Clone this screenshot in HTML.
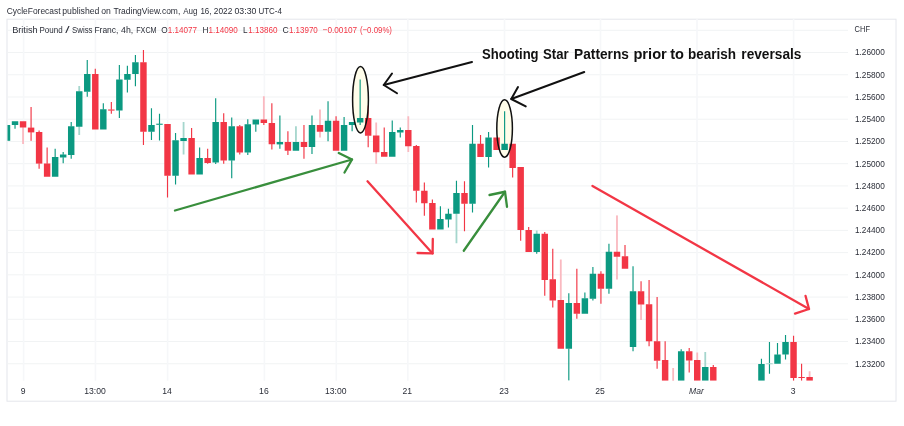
<!DOCTYPE html>
<html><head><meta charset="utf-8"><title>GBPCHF chart</title>
<style>
html,body{margin:0;padding:0;background:#fff;}
body{width:904px;height:426px;overflow:hidden;font-family:"Liberation Sans",sans-serif;}
svg{display:block}
svg text{font-family:"Liberation Sans",sans-serif;}
.ax{font-size:8.6px;fill:#2b2e38;}
.hd{font-size:9.1px;fill:#2b2e38;}
.rd{font-size:9.1px;fill:#f23645;}
.note{font-size:15.4px;font-weight:bold;fill:#111;}
</style></head><body>
<svg width="904" height="426" viewBox="0 0 904 426">
<rect width="904" height="426" fill="#fff"/>
<!-- frame -->
<rect x="7" y="19.2" width="889" height="382" fill="#fff" stroke="#e4e6ec" stroke-width="1"/>
<g id="grid">
<rect x="7" y="29.80" width="841" height="1" fill="#f1f3f4"/>
<rect x="7" y="52.03" width="841" height="1" fill="#f1f3f4"/>
<rect x="7" y="74.26" width="841" height="1" fill="#f1f3f4"/>
<rect x="7" y="96.49" width="841" height="1" fill="#f1f3f4"/>
<rect x="7" y="118.72" width="841" height="1" fill="#f1f3f4"/>
<rect x="7" y="140.95" width="841" height="1" fill="#f1f3f4"/>
<rect x="7" y="163.18" width="841" height="1" fill="#f1f3f4"/>
<rect x="7" y="185.41" width="841" height="1" fill="#f1f3f4"/>
<rect x="7" y="207.64" width="841" height="1" fill="#f1f3f4"/>
<rect x="7" y="229.87" width="841" height="1" fill="#f1f3f4"/>
<rect x="7" y="252.10" width="841" height="1" fill="#f1f3f4"/>
<rect x="7" y="274.33" width="841" height="1" fill="#f1f3f4"/>
<rect x="7" y="296.56" width="841" height="1" fill="#f1f3f4"/>
<rect x="7" y="318.79" width="841" height="1" fill="#f1f3f4"/>
<rect x="7" y="341.02" width="841" height="1" fill="#f1f3f4"/>
<rect x="7" y="363.25" width="841" height="1" fill="#f1f3f4"/>
<rect x="22.80" y="19" width="1.6" height="361.75" fill="#f6f7f9"/>
<rect x="94.65" y="19" width="1.6" height="361.75" fill="#f6f7f9"/>
<rect x="166.80" y="19" width="1.6" height="361.75" fill="#f6f7f9"/>
<rect x="263.60" y="19" width="1.6" height="361.75" fill="#f6f7f9"/>
<rect x="335.50" y="19" width="1.6" height="361.75" fill="#f6f7f9"/>
<rect x="407.00" y="19" width="1.6" height="361.75" fill="#f6f7f9"/>
<rect x="503.70" y="19" width="1.6" height="361.75" fill="#f6f7f9"/>
<rect x="599.70" y="19" width="1.6" height="361.75" fill="#f6f7f9"/>
<rect x="696.20" y="19" width="1.6" height="361.75" fill="#f6f7f9"/>
<rect x="792.80" y="19" width="1.6" height="361.75" fill="#f6f7f9"/>
</g>
<ellipse cx="360.5" cy="99.7" rx="7.9" ry="33.2" fill="#fffdea"/>
<ellipse cx="504.6" cy="128.5" rx="7.8" ry="28.7" fill="#fffdea"/>
<clipPath id="plot"><rect x="7.5" y="19.5" width="841" height="361.25"/></clipPath>
<g id="candles" clip-path="url(#plot)">
<rect x="3.77" y="125.00" width="6.45" height="15.80" fill="#0b9981"/>
<rect x="14.45" y="124.70" width="1.15" height="4.05" fill="#0b9981"/>
<rect x="11.80" y="121.25" width="6.45" height="3.75" fill="#0b9981"/>
<rect x="22.15" y="127.20" width="1.8" height="16.80" fill="#fab9c0"/>
<rect x="19.83" y="121.25" width="6.45" height="6.25" fill="#f23645"/>
<rect x="30.50" y="107.00" width="1.15" height="20.90" fill="#f23645"/>
<rect x="30.50" y="132.10" width="1.15" height="8.70" fill="#f23645"/>
<rect x="27.85" y="127.60" width="6.45" height="4.80" fill="#f23645"/>
<rect x="38.53" y="130.50" width="1.15" height="1.80" fill="#f23645"/>
<rect x="38.53" y="163.30" width="1.15" height="5.45" fill="#f23645"/>
<rect x="35.88" y="132.00" width="6.45" height="31.60" fill="#f23645"/>
<rect x="46.55" y="147.50" width="1.15" height="16.30" fill="#f23645"/>
<rect x="43.90" y="163.50" width="6.45" height="13.25" fill="#f23645"/>
<rect x="54.58" y="148.75" width="1.15" height="8.55" fill="#0b9981"/>
<rect x="51.93" y="157.00" width="6.45" height="19.75" fill="#0b9981"/>
<rect x="62.61" y="152.00" width="1.15" height="2.80" fill="#0b9981"/>
<rect x="62.61" y="157.20" width="1.15" height="6.05" fill="#0b9981"/>
<rect x="59.96" y="154.50" width="6.45" height="3.00" fill="#0b9981"/>
<rect x="70.63" y="122.00" width="1.15" height="4.55" fill="#0b9981"/>
<rect x="70.63" y="154.70" width="1.15" height="4.05" fill="#0b9981"/>
<rect x="67.98" y="126.25" width="6.45" height="28.75" fill="#0b9981"/>
<rect x="78.33" y="86.00" width="1.8" height="5.55" fill="#a5d6cd"/>
<rect x="78.33" y="126.45" width="1.8" height="8.55" fill="#a5d6cd"/>
<rect x="76.01" y="91.25" width="6.45" height="35.50" fill="#0b9981"/>
<rect x="86.68" y="60.00" width="1.15" height="14.30" fill="#0b9981"/>
<rect x="86.68" y="91.45" width="1.15" height="5.30" fill="#0b9981"/>
<rect x="84.03" y="74.00" width="6.45" height="17.75" fill="#0b9981"/>
<rect x="94.71" y="68.75" width="1.15" height="5.55" fill="#f23645"/>
<rect x="92.06" y="74.00" width="6.45" height="55.50" fill="#f23645"/>
<rect x="102.74" y="103.25" width="1.15" height="6.30" fill="#0b9981"/>
<rect x="100.09" y="109.25" width="6.45" height="20.25" fill="#0b9981"/>
<rect x="110.76" y="102.00" width="1.15" height="7.80" fill="#f23645"/>
<rect x="110.76" y="110.30" width="1.15" height="3.45" fill="#f23645"/>
<rect x="108.11" y="109.50" width="6.45" height="1.10" fill="#f23645"/>
<rect x="118.79" y="65.00" width="1.15" height="14.80" fill="#0b9981"/>
<rect x="118.79" y="110.20" width="1.15" height="7.80" fill="#0b9981"/>
<rect x="116.14" y="79.50" width="6.45" height="31.00" fill="#0b9981"/>
<rect x="126.81" y="65.75" width="1.15" height="8.55" fill="#0b9981"/>
<rect x="126.81" y="79.45" width="1.15" height="13.05" fill="#0b9981"/>
<rect x="124.17" y="74.00" width="6.45" height="5.75" fill="#0b9981"/>
<rect x="134.84" y="55.00" width="1.15" height="7.55" fill="#0b9981"/>
<rect x="134.84" y="73.70" width="1.15" height="12.55" fill="#0b9981"/>
<rect x="132.19" y="62.25" width="6.45" height="11.75" fill="#0b9981"/>
<rect x="142.87" y="50.00" width="1.15" height="12.55" fill="#f23645"/>
<rect x="142.87" y="131.45" width="1.15" height="13.55" fill="#f23645"/>
<rect x="140.22" y="62.25" width="6.45" height="69.50" fill="#f23645"/>
<rect x="150.89" y="108.25" width="1.15" height="17.05" fill="#0b9981"/>
<rect x="150.89" y="131.45" width="1.15" height="8.55" fill="#0b9981"/>
<rect x="148.24" y="125.00" width="6.45" height="6.75" fill="#0b9981"/>
<rect x="158.92" y="113.75" width="1.15" height="10.25" fill="#0b9981"/>
<rect x="158.92" y="124.50" width="1.15" height="16.00" fill="#0b9981"/>
<rect x="156.27" y="123.70" width="6.45" height="1.10" fill="#0b9981"/>
<rect x="166.94" y="175.45" width="1.15" height="22.05" fill="#f23645"/>
<rect x="164.29" y="124.00" width="6.45" height="51.75" fill="#f23645"/>
<rect x="174.97" y="133.00" width="1.15" height="7.55" fill="#0b9981"/>
<rect x="174.97" y="175.45" width="1.15" height="9.05" fill="#0b9981"/>
<rect x="172.32" y="140.25" width="6.45" height="35.50" fill="#0b9981"/>
<rect x="182.67" y="122.00" width="1.8" height="16.30" fill="#a5d6cd"/>
<rect x="182.67" y="140.70" width="1.8" height="13.80" fill="#a5d6cd"/>
<rect x="180.35" y="138.00" width="6.45" height="3.00" fill="#0b9981"/>
<rect x="191.02" y="128.00" width="1.15" height="10.30" fill="#f23645"/>
<rect x="188.37" y="138.00" width="6.45" height="36.50" fill="#f23645"/>
<rect x="199.05" y="147.50" width="1.15" height="10.80" fill="#0b9981"/>
<rect x="196.40" y="158.00" width="6.45" height="16.50" fill="#0b9981"/>
<rect x="207.08" y="148.75" width="1.15" height="9.55" fill="#f23645"/>
<rect x="207.08" y="162.70" width="1.15" height="1.05" fill="#f23645"/>
<rect x="204.43" y="158.00" width="6.45" height="5.00" fill="#f23645"/>
<rect x="215.10" y="98.25" width="1.15" height="24.05" fill="#0b9981"/>
<rect x="215.10" y="162.20" width="1.15" height="1.80" fill="#0b9981"/>
<rect x="212.45" y="122.00" width="6.45" height="40.50" fill="#0b9981"/>
<rect x="223.13" y="113.25" width="1.15" height="9.05" fill="#f23645"/>
<rect x="223.13" y="160.20" width="1.15" height="3.55" fill="#f23645"/>
<rect x="220.48" y="122.00" width="6.45" height="38.50" fill="#f23645"/>
<rect x="231.15" y="117.50" width="1.15" height="9.05" fill="#0b9981"/>
<rect x="231.15" y="160.20" width="1.15" height="18.05" fill="#0b9981"/>
<rect x="228.50" y="126.25" width="6.45" height="34.25" fill="#0b9981"/>
<rect x="239.18" y="125.00" width="1.15" height="1.55" fill="#f23645"/>
<rect x="239.18" y="152.20" width="1.15" height="2.30" fill="#f23645"/>
<rect x="236.53" y="126.25" width="6.45" height="26.25" fill="#f23645"/>
<rect x="247.21" y="119.25" width="1.15" height="5.30" fill="#0b9981"/>
<rect x="247.21" y="152.20" width="1.15" height="2.80" fill="#0b9981"/>
<rect x="244.56" y="124.25" width="6.45" height="28.25" fill="#0b9981"/>
<rect x="255.23" y="124.20" width="1.15" height="7.55" fill="#0b9981"/>
<rect x="252.58" y="119.50" width="6.45" height="5.00" fill="#0b9981"/>
<rect x="262.93" y="96.25" width="1.8" height="23.55" fill="#fab9c0"/>
<rect x="263.26" y="122.70" width="1.15" height="2.30" fill="#f23645"/>
<rect x="260.61" y="119.50" width="6.45" height="3.50" fill="#f23645"/>
<rect x="271.28" y="103.25" width="1.15" height="20.05" fill="#f23645"/>
<rect x="271.28" y="143.95" width="1.15" height="5.55" fill="#f23645"/>
<rect x="268.63" y="123.00" width="6.45" height="21.25" fill="#f23645"/>
<rect x="279.31" y="115.50" width="1.15" height="26.80" fill="#0b9981"/>
<rect x="279.31" y="144.10" width="1.15" height="4.65" fill="#0b9981"/>
<rect x="276.66" y="142.00" width="6.45" height="2.40" fill="#0b9981"/>
<rect x="287.33" y="131.25" width="1.15" height="11.05" fill="#f23645"/>
<rect x="287.33" y="150.45" width="1.15" height="4.55" fill="#f23645"/>
<rect x="284.68" y="142.00" width="6.45" height="8.75" fill="#f23645"/>
<rect x="295.04" y="126.25" width="1.8" height="16.05" fill="#a5d6cd"/>
<rect x="292.71" y="142.00" width="6.45" height="8.75" fill="#0b9981"/>
<rect x="303.39" y="125.00" width="1.15" height="17.30" fill="#f23645"/>
<rect x="303.39" y="146.70" width="1.15" height="12.05" fill="#f23645"/>
<rect x="300.74" y="142.00" width="6.45" height="5.00" fill="#f23645"/>
<rect x="311.41" y="115.50" width="1.15" height="9.80" fill="#0b9981"/>
<rect x="311.41" y="146.70" width="1.15" height="7.30" fill="#0b9981"/>
<rect x="308.76" y="125.00" width="6.45" height="22.00" fill="#0b9981"/>
<rect x="319.11" y="109.50" width="1.8" height="15.80" fill="#fab9c0"/>
<rect x="319.11" y="131.45" width="1.8" height="6.05" fill="#fab9c0"/>
<rect x="316.79" y="125.00" width="6.45" height="6.75" fill="#f23645"/>
<rect x="327.46" y="101.25" width="1.15" height="19.80" fill="#0b9981"/>
<rect x="327.46" y="131.45" width="1.15" height="9.80" fill="#0b9981"/>
<rect x="324.81" y="120.75" width="6.45" height="11.00" fill="#0b9981"/>
<rect x="335.49" y="116.25" width="1.15" height="4.80" fill="#f23645"/>
<rect x="332.84" y="120.75" width="6.45" height="30.00" fill="#f23645"/>
<rect x="343.52" y="117.00" width="1.15" height="8.30" fill="#0b9981"/>
<rect x="340.87" y="125.00" width="6.45" height="25.75" fill="#0b9981"/>
<rect x="351.54" y="124.70" width="1.15" height="6.55" fill="#0b9981"/>
<rect x="348.89" y="122.00" width="6.45" height="3.00" fill="#0b9981"/>
<rect x="359.57" y="79.50" width="1.15" height="38.80" fill="#0b9981"/>
<rect x="359.57" y="122.20" width="1.15" height="2.80" fill="#0b9981"/>
<rect x="356.92" y="118.00" width="6.45" height="4.50" fill="#0b9981"/>
<rect x="367.60" y="105.50" width="1.15" height="12.80" fill="#f23645"/>
<rect x="367.60" y="135.45" width="1.15" height="11.80" fill="#f23645"/>
<rect x="364.94" y="118.00" width="6.45" height="17.75" fill="#f23645"/>
<rect x="375.30" y="122.50" width="1.8" height="13.30" fill="#fab9c0"/>
<rect x="375.30" y="151.95" width="1.8" height="11.80" fill="#fab9c0"/>
<rect x="372.97" y="135.50" width="6.45" height="16.75" fill="#f23645"/>
<rect x="383.65" y="127.50" width="1.15" height="24.80" fill="#f23645"/>
<rect x="381.00" y="152.00" width="6.45" height="4.75" fill="#f23645"/>
<rect x="391.67" y="120.50" width="1.15" height="11.80" fill="#0b9981"/>
<rect x="389.02" y="132.00" width="6.45" height="24.75" fill="#0b9981"/>
<rect x="399.70" y="127.50" width="1.15" height="2.80" fill="#0b9981"/>
<rect x="399.70" y="132.20" width="1.15" height="5.30" fill="#0b9981"/>
<rect x="397.05" y="130.00" width="6.45" height="2.50" fill="#0b9981"/>
<rect x="407.40" y="116.25" width="1.8" height="14.05" fill="#fab9c0"/>
<rect x="407.40" y="145.95" width="1.8" height="6.05" fill="#fab9c0"/>
<rect x="405.07" y="130.00" width="6.45" height="16.25" fill="#f23645"/>
<rect x="415.75" y="145.00" width="1.15" height="1.30" fill="#f23645"/>
<rect x="415.75" y="190.45" width="1.15" height="12.05" fill="#f23645"/>
<rect x="413.10" y="146.00" width="6.45" height="44.75" fill="#f23645"/>
<rect x="423.78" y="182.50" width="1.15" height="8.55" fill="#f23645"/>
<rect x="423.78" y="202.95" width="1.15" height="12.80" fill="#f23645"/>
<rect x="421.13" y="190.75" width="6.45" height="12.50" fill="#f23645"/>
<rect x="431.80" y="199.50" width="1.15" height="3.80" fill="#f23645"/>
<rect x="429.15" y="203.00" width="6.45" height="26.50" fill="#f23645"/>
<rect x="439.83" y="206.25" width="1.15" height="13.05" fill="#0b9981"/>
<rect x="437.18" y="219.00" width="6.45" height="10.50" fill="#0b9981"/>
<rect x="447.86" y="208.75" width="1.15" height="5.30" fill="#0b9981"/>
<rect x="447.86" y="219.20" width="1.15" height="8.30" fill="#0b9981"/>
<rect x="445.20" y="213.75" width="6.45" height="5.75" fill="#0b9981"/>
<rect x="455.88" y="180.75" width="1.15" height="12.55" fill="#0b9981"/>
<rect x="455.56" y="213.45" width="1.8" height="29.80" fill="#a5d6cd"/>
<rect x="453.23" y="193.00" width="6.45" height="20.75" fill="#0b9981"/>
<rect x="463.91" y="181.25" width="1.15" height="12.05" fill="#f23645"/>
<rect x="463.91" y="203.45" width="1.15" height="27.80" fill="#f23645"/>
<rect x="461.26" y="193.00" width="6.45" height="10.75" fill="#f23645"/>
<rect x="471.93" y="125.00" width="1.15" height="19.05" fill="#0b9981"/>
<rect x="471.93" y="203.45" width="1.15" height="9.05" fill="#0b9981"/>
<rect x="469.28" y="143.75" width="6.45" height="60.00" fill="#0b9981"/>
<rect x="479.96" y="135.00" width="1.15" height="9.05" fill="#f23645"/>
<rect x="477.31" y="143.75" width="6.45" height="13.25" fill="#f23645"/>
<rect x="487.99" y="132.00" width="1.15" height="5.80" fill="#0b9981"/>
<rect x="487.99" y="156.70" width="1.15" height="10.80" fill="#0b9981"/>
<rect x="485.33" y="137.50" width="6.45" height="19.50" fill="#0b9981"/>
<rect x="493.36" y="137.50" width="6.45" height="12.50" fill="#f23645"/>
<rect x="504.04" y="111.25" width="1.15" height="32.80" fill="#0b9981"/>
<rect x="501.39" y="143.75" width="6.45" height="6.25" fill="#0b9981"/>
<rect x="512.06" y="167.70" width="1.15" height="9.80" fill="#f23645"/>
<rect x="509.41" y="143.75" width="6.45" height="24.25" fill="#f23645"/>
<rect x="520.09" y="229.70" width="1.15" height="11.05" fill="#f23645"/>
<rect x="517.44" y="167.00" width="6.45" height="63.00" fill="#f23645"/>
<rect x="528.11" y="227.00" width="1.15" height="3.30" fill="#f23645"/>
<rect x="525.46" y="230.00" width="6.45" height="22.00" fill="#f23645"/>
<rect x="535.82" y="230.50" width="1.8" height="3.55" fill="#a5d6cd"/>
<rect x="536.14" y="251.70" width="1.15" height="2.05" fill="#0b9981"/>
<rect x="533.49" y="233.75" width="6.45" height="18.25" fill="#0b9981"/>
<rect x="544.17" y="232.00" width="1.15" height="2.05" fill="#f23645"/>
<rect x="544.17" y="279.70" width="1.15" height="16.05" fill="#f23645"/>
<rect x="541.52" y="233.75" width="6.45" height="46.25" fill="#f23645"/>
<rect x="552.19" y="248.75" width="1.15" height="30.80" fill="#f23645"/>
<rect x="552.19" y="300.20" width="1.15" height="7.30" fill="#f23645"/>
<rect x="549.54" y="279.25" width="6.45" height="21.25" fill="#f23645"/>
<rect x="559.89" y="259.50" width="1.8" height="40.80" fill="#fab9c0"/>
<rect x="557.57" y="300.00" width="6.45" height="48.75" fill="#f23645"/>
<rect x="568.24" y="293.25" width="1.15" height="10.05" fill="#0b9981"/>
<rect x="568.24" y="348.45" width="1.15" height="32.05" fill="#0b9981"/>
<rect x="565.59" y="303.00" width="6.45" height="45.75" fill="#0b9981"/>
<rect x="576.27" y="268.75" width="1.15" height="34.55" fill="#f23645"/>
<rect x="576.27" y="313.45" width="1.15" height="5.30" fill="#f23645"/>
<rect x="573.62" y="303.00" width="6.45" height="10.75" fill="#f23645"/>
<rect x="584.30" y="292.50" width="1.15" height="6.05" fill="#0b9981"/>
<rect x="581.65" y="298.25" width="6.45" height="15.50" fill="#0b9981"/>
<rect x="592.32" y="267.00" width="1.15" height="7.05" fill="#0b9981"/>
<rect x="592.32" y="298.45" width="1.15" height="2.05" fill="#0b9981"/>
<rect x="589.67" y="273.75" width="6.45" height="25.00" fill="#0b9981"/>
<rect x="600.35" y="271.25" width="1.15" height="2.80" fill="#f23645"/>
<rect x="600.35" y="288.45" width="1.15" height="15.30" fill="#f23645"/>
<rect x="597.70" y="273.75" width="6.45" height="15.00" fill="#f23645"/>
<rect x="608.37" y="243.75" width="1.15" height="8.30" fill="#0b9981"/>
<rect x="608.37" y="288.45" width="1.15" height="5.30" fill="#0b9981"/>
<rect x="605.72" y="251.75" width="6.45" height="37.00" fill="#0b9981"/>
<rect x="616.08" y="215.40" width="1.8" height="36.65" fill="#fab9c0"/>
<rect x="616.08" y="256.45" width="1.8" height="23.05" fill="#fab9c0"/>
<rect x="613.75" y="251.75" width="6.45" height="5.00" fill="#f23645"/>
<rect x="624.43" y="245.00" width="1.15" height="11.55" fill="#f23645"/>
<rect x="621.78" y="256.25" width="6.45" height="12.50" fill="#f23645"/>
<rect x="632.45" y="266.25" width="1.15" height="25.30" fill="#0b9981"/>
<rect x="632.45" y="346.70" width="1.15" height="4.55" fill="#0b9981"/>
<rect x="629.80" y="291.25" width="6.45" height="55.75" fill="#0b9981"/>
<rect x="640.48" y="281.25" width="1.15" height="10.30" fill="#f23645"/>
<rect x="640.15" y="304.20" width="1.8" height="15.80" fill="#fab9c0"/>
<rect x="637.83" y="291.25" width="6.45" height="13.25" fill="#f23645"/>
<rect x="648.50" y="280.00" width="1.15" height="24.55" fill="#f23645"/>
<rect x="648.50" y="340.95" width="1.15" height="5.30" fill="#f23645"/>
<rect x="645.85" y="304.25" width="6.45" height="37.00" fill="#f23645"/>
<rect x="656.53" y="297.00" width="1.15" height="44.55" fill="#f23645"/>
<rect x="656.53" y="360.45" width="1.15" height="8.30" fill="#f23645"/>
<rect x="653.88" y="341.25" width="6.45" height="19.50" fill="#f23645"/>
<rect x="664.56" y="341.25" width="1.15" height="19.05" fill="#f23645"/>
<rect x="661.91" y="360.00" width="6.45" height="20.75" fill="#f23645"/>
<rect x="672.26" y="368.00" width="1.8" height="13.05" fill="#fab9c0"/>
<rect x="680.61" y="349.25" width="1.15" height="2.30" fill="#0b9981"/>
<rect x="677.96" y="351.25" width="6.45" height="29.50" fill="#0b9981"/>
<rect x="688.63" y="348.00" width="1.15" height="3.55" fill="#f23645"/>
<rect x="688.63" y="360.20" width="1.15" height="12.30" fill="#f23645"/>
<rect x="685.99" y="351.25" width="6.45" height="9.25" fill="#f23645"/>
<rect x="696.34" y="352.50" width="1.8" height="7.80" fill="#fab9c0"/>
<rect x="694.01" y="360.00" width="6.45" height="20.75" fill="#f23645"/>
<rect x="704.36" y="352.00" width="1.8" height="15.30" fill="#a5d6cd"/>
<rect x="702.04" y="367.00" width="6.45" height="13.75" fill="#0b9981"/>
<rect x="712.71" y="365.00" width="1.15" height="2.30" fill="#f23645"/>
<rect x="710.06" y="367.00" width="6.45" height="13.75" fill="#f23645"/>
<rect x="760.87" y="358.75" width="1.15" height="5.55" fill="#0b9981"/>
<rect x="758.22" y="364.00" width="6.45" height="16.75" fill="#0b9981"/>
<rect x="768.89" y="342.00" width="1.15" height="21.55" fill="#0b9981"/>
<rect x="768.89" y="363.95" width="1.15" height="9.80" fill="#0b9981"/>
<rect x="766.25" y="363.25" width="6.45" height="1.00" fill="#a5d6cd"/>
<rect x="776.92" y="343.00" width="1.15" height="11.80" fill="#0b9981"/>
<rect x="774.27" y="354.50" width="6.45" height="9.25" fill="#0b9981"/>
<rect x="784.95" y="335.00" width="1.15" height="7.30" fill="#0b9981"/>
<rect x="784.95" y="354.20" width="1.15" height="5.30" fill="#0b9981"/>
<rect x="782.30" y="342.00" width="6.45" height="12.50" fill="#0b9981"/>
<rect x="792.97" y="335.75" width="1.15" height="6.55" fill="#f23645"/>
<rect x="792.97" y="377.70" width="1.15" height="3.05" fill="#f23645"/>
<rect x="790.32" y="342.00" width="6.45" height="36.00" fill="#f23645"/>
<rect x="801.00" y="363.75" width="1.15" height="13.55" fill="#f23645"/>
<rect x="801.00" y="377.70" width="1.15" height="3.05" fill="#f23645"/>
<rect x="798.35" y="377.00" width="6.45" height="1.00" fill="#f23645"/>
<rect x="808.70" y="371.25" width="1.8" height="6.05" fill="#fab9c0"/>
<rect x="806.38" y="377.00" width="6.45" height="3.75" fill="#f23645"/>
</g>
<!-- annotations -->
<g fill="none" stroke-linecap="round" stroke-linejoin="round">
<ellipse cx="360.5" cy="99.7" rx="7.9" ry="33.2" stroke="#111" stroke-width="1.5"/>
<ellipse cx="504.6" cy="128.5" rx="7.8" ry="28.7" stroke="#111" stroke-width="1.5"/>
<g stroke="#111" stroke-width="2">
<path d="M472 62 L383.75 85"/><path d="M392 73.5 L383.75 85 L397 93.25"/>
<path d="M584.25 72 L511.25 99"/><path d="M518 87 L511.25 99 L525.75 106.4"/>
</g>
<g stroke="#388e3c" stroke-width="2.3">
<path d="M175 210.5 L352 159.5"/><path d="M338.75 153 L352 159.5 L344.5 172.5"/>
<path d="M463.75 250.75 L505 191.75"/><path d="M489.5 195 L505 191.75 L507 206.75"/>
</g>
<g stroke="#f23645" stroke-width="2.3">
<path d="M367.5 181.25 L432.6 253.4"/><path d="M432.8 239 L432.6 253.4 L417.5 253"/>
<path d="M592.5 185.9 L809 309"/><path d="M805.5 295.8 L809 309 L795 313.6"/>
</g>
</g>
<!-- redraw shooting star candles over ellipse fill handled by order: ellipses are translucent -->
<text x="482.0" y="59" class="note" textLength="56.6" lengthAdjust="spacingAndGlyphs">Shooting</text><text x="543.1" y="59" class="note" textLength="25.6" lengthAdjust="spacingAndGlyphs">Star</text><text x="574.1" y="59" class="note" textLength="54.8" lengthAdjust="spacingAndGlyphs">Patterns</text><text x="633.4" y="59" class="note" textLength="33.4" lengthAdjust="spacingAndGlyphs">prior</text><text x="670.2" y="59" class="note" textLength="13.8" lengthAdjust="spacingAndGlyphs">to</text><text x="688.1" y="59" class="note" textLength="48.0" lengthAdjust="spacingAndGlyphs">bearish</text><text x="741.3" y="59" class="note" textLength="60.2" lengthAdjust="spacingAndGlyphs">reversals</text>
<!-- header -->
<text x="6.70" y="13.6" class="hd" textLength="53.90" lengthAdjust="spacingAndGlyphs">CycleForecast</text>
<text x="62.30" y="13.6" class="hd" textLength="37.10" lengthAdjust="spacingAndGlyphs">published</text>
<text x="101.30" y="13.6" class="hd" textLength="9.60" lengthAdjust="spacingAndGlyphs">on</text>
<text x="113.40" y="13.6" class="hd" textLength="66.90" lengthAdjust="spacingAndGlyphs">TradingView.com,</text>
<text x="183.20" y="13.6" class="hd" textLength="14.30" lengthAdjust="spacingAndGlyphs">Aug</text>
<text x="200.40" y="13.6" class="hd" textLength="11.10" lengthAdjust="spacingAndGlyphs">16,</text>
<text x="213.80" y="13.6" class="hd" textLength="18.50" lengthAdjust="spacingAndGlyphs">2022</text>
<text x="234.50" y="13.6" class="hd" textLength="21.90" lengthAdjust="spacingAndGlyphs">03:30</text>
<text x="258.40" y="13.6" class="hd" textLength="23.50" lengthAdjust="spacingAndGlyphs">UTC-4</text>
<text x="12.15" y="32.8" class="hd" textLength="25.45" lengthAdjust="spacingAndGlyphs">British</text>
<text x="39.50" y="32.8" class="hd" textLength="23.10" lengthAdjust="spacingAndGlyphs">Pound</text>
<text x="65.20" y="32.8" class="hd" textLength="4.30" lengthAdjust="spacingAndGlyphs">/</text>
<text x="72.10" y="32.8" class="hd" textLength="20.40" lengthAdjust="spacingAndGlyphs">Swiss</text>
<text x="94.40" y="32.8" class="hd" textLength="24.00" lengthAdjust="spacingAndGlyphs">Franc,</text>
<text x="121.10" y="32.8" class="hd" textLength="12.20" lengthAdjust="spacingAndGlyphs">4h,</text>
<text x="136.20" y="32.8" class="hd" textLength="20.40" lengthAdjust="spacingAndGlyphs">FXCM</text>
<text x="161.30" y="32.8" class="hd" textLength="6.40" lengthAdjust="spacingAndGlyphs">O</text>
<text x="167.80" y="32.8" class="rd" textLength="29.30" lengthAdjust="spacingAndGlyphs">1.14077</text>
<text x="202.60" y="32.8" class="hd" textLength="6.00" lengthAdjust="spacingAndGlyphs">H</text>
<text x="208.60" y="32.8" class="rd" textLength="29.20" lengthAdjust="spacingAndGlyphs">1.14090</text>
<text x="243.10" y="32.8" class="hd" textLength="4.60" lengthAdjust="spacingAndGlyphs">L</text>
<text x="248.30" y="32.8" class="rd" textLength="29.30" lengthAdjust="spacingAndGlyphs">1.13860</text>
<text x="282.40" y="32.8" class="hd" textLength="6.30" lengthAdjust="spacingAndGlyphs">C</text>
<text x="288.90" y="32.8" class="rd" textLength="28.90" lengthAdjust="spacingAndGlyphs">1.13970</text>
<text x="322.60" y="32.8" class="rd" textLength="34.60" lengthAdjust="spacingAndGlyphs">−0.00107</text>
<text x="359.90" y="32.8" class="rd" textLength="32.10" lengthAdjust="spacingAndGlyphs">(−0.09%)</text>
<!-- axes -->
<text x="854.6" y="31.8" class="ax" style="font-size:9.1px" textLength="15.4" lengthAdjust="spacingAndGlyphs">CHF</text>
<text x="855" y="55.38" class="ax" textLength="29.8" lengthAdjust="spacingAndGlyphs">1.26000</text>
<text x="855" y="77.61" class="ax" textLength="29.8" lengthAdjust="spacingAndGlyphs">1.25800</text>
<text x="855" y="99.84" class="ax" textLength="29.8" lengthAdjust="spacingAndGlyphs">1.25600</text>
<text x="855" y="122.07" class="ax" textLength="29.8" lengthAdjust="spacingAndGlyphs">1.25400</text>
<text x="855" y="144.30" class="ax" textLength="29.8" lengthAdjust="spacingAndGlyphs">1.25200</text>
<text x="855" y="166.53" class="ax" textLength="29.8" lengthAdjust="spacingAndGlyphs">1.25000</text>
<text x="855" y="188.76" class="ax" textLength="29.8" lengthAdjust="spacingAndGlyphs">1.24800</text>
<text x="855" y="210.99" class="ax" textLength="29.8" lengthAdjust="spacingAndGlyphs">1.24600</text>
<text x="855" y="233.22" class="ax" textLength="29.8" lengthAdjust="spacingAndGlyphs">1.24400</text>
<text x="855" y="255.45" class="ax" textLength="29.8" lengthAdjust="spacingAndGlyphs">1.24200</text>
<text x="855" y="277.68" class="ax" textLength="29.8" lengthAdjust="spacingAndGlyphs">1.24000</text>
<text x="855" y="299.91" class="ax" textLength="29.8" lengthAdjust="spacingAndGlyphs">1.23800</text>
<text x="855" y="322.14" class="ax" textLength="29.8" lengthAdjust="spacingAndGlyphs">1.23600</text>
<text x="855" y="344.37" class="ax" textLength="29.8" lengthAdjust="spacingAndGlyphs">1.23400</text>
<text x="855" y="366.60" class="ax" textLength="29.8" lengthAdjust="spacingAndGlyphs">1.23200</text>
<text x="23.10" y="394.3" text-anchor="middle" class="ax">9</text>
<text x="94.95" y="394.3" text-anchor="middle" class="ax">13:00</text>
<text x="167.10" y="394.3" text-anchor="middle" class="ax">14</text>
<text x="263.90" y="394.3" text-anchor="middle" class="ax">16</text>
<text x="335.80" y="394.3" text-anchor="middle" class="ax">13:00</text>
<text x="407.30" y="394.3" text-anchor="middle" class="ax">21</text>
<text x="504.00" y="394.3" text-anchor="middle" class="ax">23</text>
<text x="600.00" y="394.3" text-anchor="middle" class="ax">25</text>
<text x="696.50" y="394.3" text-anchor="middle" class="ax" font-style="italic">Mar</text>
<text x="793.10" y="394.3" text-anchor="middle" class="ax">3</text>
</svg>
</body></html>
